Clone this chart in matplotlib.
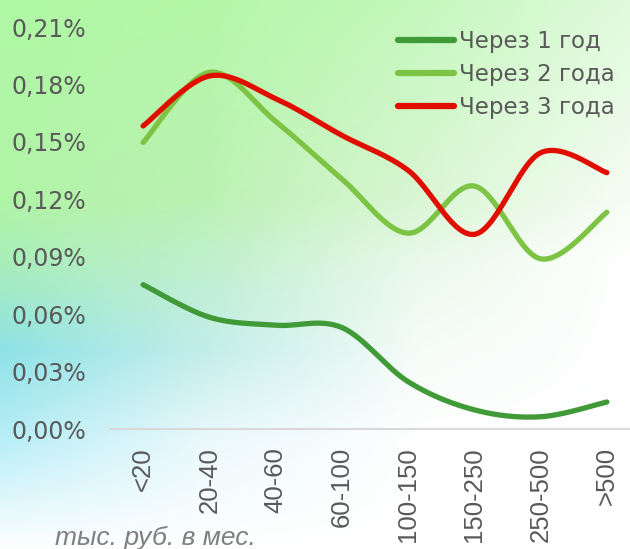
import numpy as np
import matplotlib
matplotlib.use("Agg")
import matplotlib.pyplot as plt

# data, % values
categories = ["<20", "20-40", "40-60", "60-100", "100-150", "150-250", "250-500", ">500"]
year1 = [0.0754, 0.0584, 0.0542, 0.0530, 0.0247, 0.0100, 0.0064, 0.0141]
year2 = [0.1497, 0.1863, 0.1607, 0.1306, 0.1023, 0.1269, 0.0889, 0.1132]
year3 = [0.1583, 0.1844, 0.1726, 0.1534, 0.1351, 0.1017, 0.1443, 0.1339]
labels = ["Через 1 год", "Через 2 года", "Через 3 года"]
colors = ["#419a38", "#7dc444", "#e00e00"]
yticks = [0.0, 0.03, 0.06, 0.09, 0.12, 0.15, 0.18, 0.21]
xlabel = "тыс. руб. в мес."

TXT = "#595959"


def smooth(y, n=30):
    # Excel-like smoothed line (uniform Catmull-Rom through the points)
    x = np.arange(len(y), dtype=float)
    p = np.column_stack([x, np.asarray(y, dtype=float)])
    p = np.vstack([p[0], p, p[-1]])
    out = []
    t = np.linspace(0, 1, n)[:, None]
    for i in range(1, len(p) - 2):
        p0, p1, p2, p3 = p[i - 1], p[i], p[i + 1], p[i + 2]
        c1 = p1 + (p2 - p0) / 6
        c2 = p2 - (p3 - p1) / 6
        seg = ((1 - t) ** 3) * p1 + 3 * ((1 - t) ** 2) * t * c1 + 3 * (1 - t) * t ** 2 * c2 + t ** 3 * p2
        out.append(seg if i == 1 else seg[1:])
    out = np.vstack(out)
    return out[:, 0], out[:, 1]


def hex2rgb(h):
    return [int(h[i:i + 2], 16) / 255 for i in (1, 3, 5)]


fig = plt.figure(figsize=(6.3, 5.49), dpi=100)

# background gradient
gx = [0, 210, 420, 630]
gy = [0, 200, 260, 350, 440, 549]
grid = np.array([
    [hex2rgb(c) for c in ["#b0f8a6", "#b4f8a8", "#c4f8bc", "#e0fadc"]],
    [hex2rgb(c) for c in ["#b0f4a6", "#bcf2b4", "#daf6d4", "#f6fdf4"]],
    [hex2rgb(c) for c in ["#a8eeb8", "#c0f0cc", "#eaf9ea", "#ffffff"]],
    [hex2rgb(c) for c in ["#8ee2e6", "#c4eeea", "#f6fcf8", "#ffffff"]],
    [hex2rgb(c) for c in ["#b8eef8", "#ecf9fc", "#ffffff", "#ffffff"]],
    [hex2rgb(c) for c in ["#ffffff", "#ffffff", "#ffffff", "#ffffff"]],
])
W, H = 630, 549
yy = np.arange(H)
xx = np.arange(W)
cols = np.zeros((H, len(gx), 3))
for j in range(len(gx)):
    for c in range(3):
        cols[:, j, c] = np.interp(yy, gy, grid[:, j, c])
img = np.zeros((H, W, 3))
for r in range(H):
    for c in range(3):
        img[r, :, c] = np.interp(xx, gx, cols[r, :, c])
bg = fig.add_axes([0, 0, 1, 1], zorder=0)
bg.imshow(img, extent=[0, 1, 0, 1], aspect="auto", interpolation="bilinear")
bg.axis("off")

ax = fig.add_axes([110 / 630, 120 / 549, 530 / 630, 402 / 549], zorder=1)
ax.patch.set_alpha(0)

for vals, lab, col in zip([year1, year2, year3], labels, colors):
    sx, sy = smooth(vals)
    ax.plot(sx, sy, color=col, lw=3.8, label=lab, solid_capstyle="round")

ax.set_xlim(-0.5, 7.5)
ax.set_ylim(0, 0.21)
ax.set_yticks(yticks)
ax.set_yticklabels([("%.2f%%" % v).replace(".", ",") for v in yticks],
                   fontsize=17, color=TXT, family="DejaVu Sans")
ax.set_xticks(range(len(categories)))
ax.set_xticklabels(categories, rotation=90, fontsize=18.5, color=TXT, family="Liberation Sans")
ax.tick_params(axis="y", length=0, pad=17)
ax.tick_params(axis="x", length=0, pad=13)
for s in ["top", "right", "left"]:
    ax.spines[s].set_visible(False)
ax.spines["bottom"].set_color("#d9d9d9")
ax.spines["bottom"].set_linewidth(1.5)

leg = ax.legend(loc="upper left", bbox_to_anchor=(398 / 630, 1 - 30 / 549),
                bbox_transform=fig.transFigure, frameon=False, borderpad=0,
                borderaxespad=0, handlelength=2.45, handletextpad=0.2,
                labelspacing=0.43, prop={"family": "DejaVu Sans", "size": 16.5})
for t in leg.get_texts():
    t.set_color(TXT)
for h in leg.get_lines():
    h.set_linewidth(4.5)

fig.text(55 / 630, 4 / 549, xlabel, fontsize=19, style="italic", color="#7f7f7f",
         family="Liberation Sans", va="baseline", ha="left")

fig.savefig("out.png", dpi=100)
